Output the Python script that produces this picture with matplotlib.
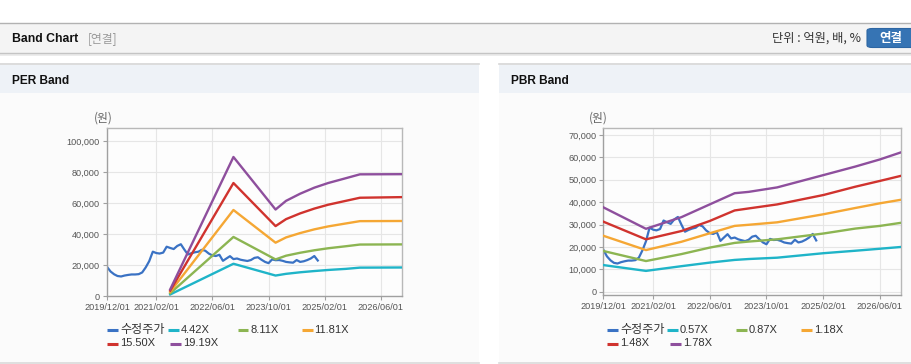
import matplotlib
matplotlib.use("Agg")
import matplotlib.pyplot as plt
import matplotlib.dates as mdates
from matplotlib.patches import Rectangle, FancyBboxPatch
from matplotlib.lines import Line2D
import pandas as pd

# ---------------- data ----------------
price_start = "2019-12-01"
price = [18800, 15800, 14000, 12900, 12600, 13200, 13600, 13900, 13900, 14100,
         15200, 18500, 22500, 28600, 27700, 27400, 28000, 31800, 31000, 30300,
         32300, 33400, 30000, 26800, 27600, 28200, 28600, 29800, 29200, 27400,
         26200, 25800, 26600, 22700, 24200, 25700, 23800, 24200, 23400, 23000,
         22600, 23200, 24600, 25000, 23400, 22000, 21200, 23600, 23100, 23200,
         22700, 22000, 21700, 21500, 23200, 22000, 22400, 23200, 24200, 25800,
         22900]
price_label = "수정주가"

per_dates = ["2021-06-01", "2022-12-01", "2023-12-01", "2024-03-01", "2024-07-01",
             "2024-11-01", "2025-03-01", "2025-08-01", "2025-12-01", "2026-12-01"]
per_labels = ["4.42X", "8.11X", "11.81X", "15.50X", "19.19X"]
per_bands = [
    [1000, 20800, 13200, 14300, 15300, 16100, 16800, 17500, 18300, 18400],
    [1800, 38100, 23600, 26000, 27900, 29500, 30800, 32100, 33200, 33300],
    [2700, 55500, 34400, 37800, 40600, 43000, 44900, 46800, 48300, 48400],
    [3500, 72900, 45100, 49600, 53300, 56400, 58900, 61400, 63400, 63800],
    [4300, 89700, 55800, 61400, 66000, 69900, 72900, 76000, 78500, 78600],
]

pbr_dates = ["2019-12-01", "2020-12-01", "2021-10-01", "2022-06-01", "2023-01-01",
             "2023-05-01", "2024-01-01", "2025-02-01", "2025-11-01", "2026-06-01",
             "2026-12-01"]
pbr_labels = ["0.57X", "0.87X", "1.18X", "1.48X", "1.78X"]
pbr_bands = [
    [11900, 9300, 11400, 13000, 14200, 14600, 15200, 17200, 18300, 19200, 20000],
    [18200, 13700, 16800, 19700, 21800, 22400, 23400, 26000, 28200, 29400, 30800],
    [25000, 18600, 22300, 26100, 29400, 29900, 31000, 34600, 37400, 39500, 41100],
    [31300, 23400, 27100, 31600, 36300, 37200, 39000, 43200, 46900, 49500, 51800],
    [37700, 28100, 33300, 39000, 44000, 44600, 46600, 52100, 55900, 59100, 62300],
]

x_ticks = ["2019-12-01", "2021-02-01", "2022-06-01", "2023-10-01", "2025-02-01", "2026-06-01"]
x_range = ["2019-12-01", "2026-12-01"]
per_yticks = [0, 20000, 40000, 60000, 80000, 100000]
pbr_yticks = [0, 10000, 20000, 30000, 40000, 50000, 60000, 70000]

price_color = "#3a72c4"
band_colors = ["#1fb4c8", "#8cb552", "#f5a734", "#d0332e", "#8e4f9d"]

# ---------------- figure ----------------
W, H = 912, 364
fig = plt.figure(figsize=(W / 100, H / 100), dpi=100)
fig.patch.set_facecolor("white")

FONT = ["Liberation Sans", "Noto Sans CJK KR", "DejaVu Sans"]
KFONT = ["Noto Sans CJK KR", "DejaVu Sans"]


def fx(x):
    return x / W


def fy(y):
    return 1 - y / H


def rect(x0, y0, x1, y1, color, z=-5):
    fig.patches.append(Rectangle((fx(x0), fy(y1)), fx(x1 - x0), (y1 - y0) / H,
                                 transform=fig.transFigure, facecolor=color,
                                 edgecolor="none", zorder=z))


def hline(y, x0, x1, color, lw=1.0, z=-4):
    fig.add_artist(Line2D([fx(x0), fx(x1)], [fy(y), fy(y)], transform=fig.transFigure,
                          color=color, lw=lw, zorder=z))


# header band
hline(22.5, 0, W, "#b2b2b2", 1.0)
rect(0, 23, W, 52.5, "#f4f4f4")
hline(53, 0, W, "#c4c4c4", 1.0)
rect(0, 53.5, W, 56, "#ececec")
fig.text(fx(12), fy(38.5), "Band Chart", fontsize=8.8, fontweight="bold",
         family=FONT, color="#111111", va="center", ha="left")
fig.text(fx(88), fy(38.5), "[연결]", fontsize=8.5, family=KFONT, color="#999999",
         va="center", ha="left")
fig.text(fx(861), fy(38.5), "단위 : 억원, 배, %", fontsize=8.8, family=KFONT,
         color="#333333", va="center", ha="right")
btn = FancyBboxPatch((fx(867), fy(47.5)), fx(50), 19 / H,
                     boxstyle="round,pad=0,rounding_size=0.006",
                     transform=fig.transFigure, facecolor="#3674b4",
                     edgecolor="#2d66a3", lw=0.8, zorder=2)
fig.patches.append(btn)
fig.text(fx(891), fy(38.5), "연결", fontsize=9, fontweight="bold", family=KFONT,
         color="white", va="center", ha="center", zorder=3)

# panels
for (px0, px1, title) in [(0, 479, "PER Band"), (499, W, "PBR Band")]:
    hline(64, px0, px1, "#d6d6d6", 1.2)
    rect(px0, 64.5, px1, 93, "#eef2f7")
    rect(px0, 93, px1, 362, "#fbfbfb")
    hline(362.5, px0, px1, "#d9d9d9", 1.2)
    fig.text(fx(px0 + 12), fy(80.5), title, fontsize=8.6, fontweight="bold",
             family=FONT, color="#111111", va="center", ha="left")

price_dates = pd.date_range(price_start, periods=len(price), freq="MS")
xr = pd.to_datetime(x_range)
xt = pd.to_datetime(x_ticks)


def style_axes(ax, yticks, ylim):
    ax.set_zorder(10)
    ax.set_facecolor("#fdfdfd")
    ax.set_xlim(xr[0], xr[1])
    ax.set_ylim(*ylim)
    ax.set_xticks(xt)
    ax.xaxis.set_major_formatter(mdates.DateFormatter("%Y/%m/%d"))
    ax.set_yticks(yticks)
    ax.set_yticklabels([f"{v:,}" for v in yticks])
    ax.grid(True, color="#e6e6e6", lw=0.8)
    ax.set_axisbelow(True)
    for s in ["top", "right"]:
        ax.spines[s].set_color("#b8b8b8")
        ax.spines[s].set_linewidth(1.0)
    for s in ["left", "bottom"]:
        ax.spines[s].set_color("#a0a0a0")
        ax.spines[s].set_linewidth(1.0)
    ax.tick_params(axis="both", length=3, width=0.8, color="#a0a0a0",
                   labelsize=6.6, labelcolor="#555555", pad=2)
    for lab in ax.get_xticklabels() + ax.get_yticklabels():
        lab.set_family(FONT)


def legend(items):
    for (x, y, lab, col) in items:
        fig.add_artist(Line2D([fx(x), fx(x + 11)], [fy(y), fy(y)],
                              transform=fig.transFigure, color=col, lw=2.2,
                              solid_capstyle="butt"))
        size = 8.7 if lab == price_label else 8.0
        fig.text(fx(x + 13), fy(y), lab, fontsize=size, family=FONT, color="#333333",
                 va="center", ha="left")


# PER axes
ax1 = fig.add_axes([fx(107), fy(296), fx(295), 168 / H])
ax1.plot(price_dates, price, color=price_color, lw=1.6, zorder=2)
pdts = pd.to_datetime(per_dates)
for vals, col in zip(per_bands, band_colors):
    ax1.plot(pdts, vals, color=col, lw=1.7, zorder=3)
style_axes(ax1, per_yticks, (0, 108400))
fig.text(fx(103), fy(118), "(원)", fontsize=8.5, family=KFONT, color="#666666",
         va="center", ha="center")

# PBR axes
ax2 = fig.add_axes([fx(603.3), fy(295), fx(298), 166.7 / H])
ax2.plot(price_dates, price, color=price_color, lw=1.6, zorder=2)
bdts = pd.to_datetime(pbr_dates)
for vals, col in zip(pbr_bands, band_colors):
    ax2.plot(bdts, vals, color=col, lw=1.7, zorder=3)
style_axes(ax2, pbr_yticks, (-1470, 73000))
fig.text(fx(598), fy(118), "(원)", fontsize=8.5, family=KFONT, color="#666666",
         va="center", ha="center")

# legends
legend([
    (107.5, 330, price_label, price_color),
    (168, 330, per_labels[0], band_colors[0]),
    (237.5, 330, per_labels[1], band_colors[1]),
    (301.5, 330, per_labels[2], band_colors[2]),
    (107.5, 343.5, per_labels[3], band_colors[3]),
    (170, 343.5, per_labels[4], band_colors[4]),
])
legend([
    (607, 330, price_label, price_color),
    (667, 330, pbr_labels[0], band_colors[0]),
    (736, 330, pbr_labels[1], band_colors[1]),
    (801, 330, pbr_labels[2], band_colors[2]),
    (607, 343.5, pbr_labels[3], band_colors[3]),
    (670, 343.5, pbr_labels[4], band_colors[4]),
])

fig.savefig("out.png", dpi=100, facecolor=fig.get_facecolor())
